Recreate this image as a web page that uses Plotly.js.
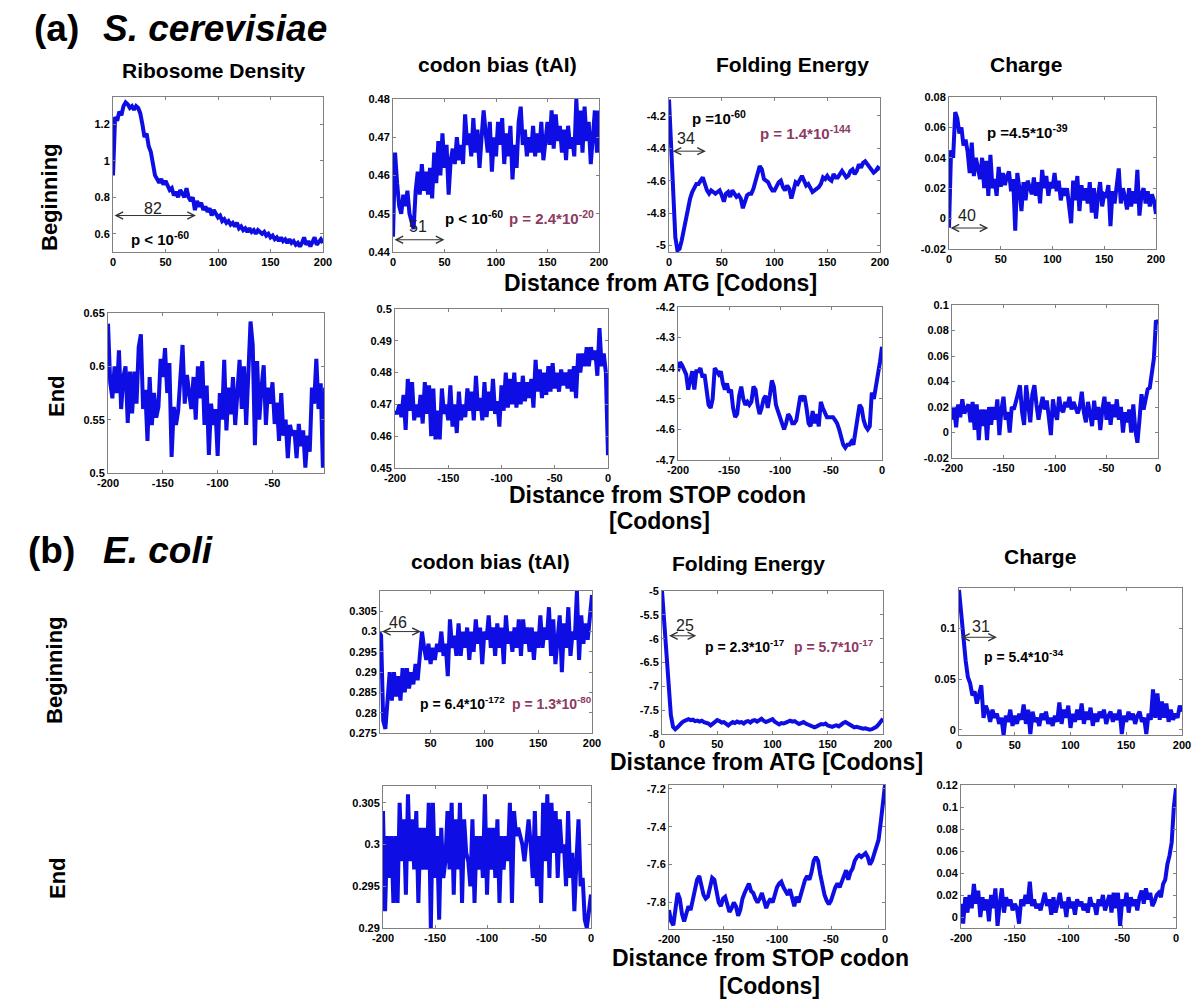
<!DOCTYPE html>
<html><head><meta charset="utf-8">
<script src="https://cdn.plot.ly/plotly-3.0.1.min.js"></script>
<style>html,body{margin:0;padding:0;background:#fff}#chart{width:1200px;height:1006px}</style>
</head><body><div id="chart"></div>
<script>
// ---------- codon positions ----------
const xBegin = [0,2,4,6,8,10,12,14,16,18,20,22,24,26,28,30,32,34,36,38,40,42,44,46,48,50,52,54,56,58,60,62,64,66,68,70,72,74,76,78,80,82,84,86,88,90,92,94,96,98,100,102,104,106,108,110,112,114,116,118,120,122,124,126,128,130,132,134,136,138,140,142,144,146,148,150,152,154,156,158,160,162,164,166,168,170,172,174,176,178,180,182,184,186,188,190,192,194,196,198,200];
const xBeginEc = [2,4,6,8,10,12,14,16,18,20,22,24,26,28,30,32,34,36,38,40,42,44,46,48,50,52,54,56,58,60,62,64,66,68,70,72,74,76,78,80,82,84,86,88,90,92,94,96,98,100,102,104,106,108,110,112,114,116,118,120,122,124,126,128,130,132,134,136,138,140,142,144,146,148,150,152,154,156,158,160,162,164,166,168,170,172,174,176,178,180,182,184,186,188,190,192,194,196,198,200];
const xEnd = [-200,-198,-196,-194,-192,-190,-188,-186,-184,-182,-180,-178,-176,-174,-172,-170,-168,-166,-164,-162,-160,-158,-156,-154,-152,-150,-148,-146,-144,-142,-140,-138,-136,-134,-132,-130,-128,-126,-124,-122,-120,-118,-116,-114,-112,-110,-108,-106,-104,-102,-100,-98,-96,-94,-92,-90,-88,-86,-84,-82,-80,-78,-76,-74,-72,-70,-68,-66,-64,-62,-60,-58,-56,-54,-52,-50,-48,-46,-44,-42,-40,-38,-36,-34,-32,-30,-28,-26,-24,-22,-20,-18,-16,-14,-12,-10,-8,-6,-4,-2,0];

// ---------- (a) S. cerevisiae, beginning ----------
const scRiboBegin = [0.92,1.24,1.22,1.27,1.25,1.30,1.32,1.31,1.29,1.30,
 1.28,1.30,1.29,1.26,1.20,1.13,1.15,1.08,1.05,0.97,
 0.92,0.90,0.88,0.90,0.87,0.89,0.86,0.84,0.85,0.81,
 0.83,0.80,0.84,0.82,0.80,0.85,0.80,0.78,0.80,0.73,
 0.78,0.75,0.77,0.73,0.75,0.72,0.74,0.70,0.73,0.71,
 0.69,0.70,0.67,0.68,0.66,0.67,0.65,0.66,0.64,0.66,
 0.63,0.64,0.62,0.63,0.61,0.63,0.61,0.62,0.60,0.62,
 0.61,0.60,0.61,0.59,0.60,0.58,0.59,0.57,0.58,0.56,
 0.58,0.56,0.57,0.55,0.57,0.55,0.56,0.54,0.55,0.53,
 0.55,0.58,0.54,0.56,0.53,0.55,0.58,0.54,0.56,0.57,
 0.55];
const scCodonBegin = [0.444,0.466,0.458,0.452,0.450,0.455,0.452,0.456,0.450,0.448,
 0.446,0.456,0.461,0.455,0.463,0.456,0.461,0.455,0.462,0.454,
 0.466,0.458,0.469,0.460,0.471,0.462,0.468,0.455,0.464,0.467,
 0.463,0.470,0.464,0.468,0.463,0.476,0.468,0.471,0.465,0.475,
 0.466,0.472,0.462,0.470,0.477,0.471,0.466,0.474,0.461,0.470,
 0.465,0.474,0.468,0.475,0.463,0.471,0.465,0.473,0.459,0.468,
 0.462,0.474,0.478,0.468,0.472,0.465,0.470,0.466,0.473,0.465,
 0.471,0.466,0.474,0.464,0.470,0.474,0.468,0.477,0.467,0.476,
 0.469,0.473,0.466,0.472,0.464,0.473,0.467,0.470,0.465,0.480,
 0.468,0.477,0.466,0.478,0.469,0.474,0.463,0.471,0.477,0.466,
 0.477];
const scFoldBegin = [-4.10,-4.40,-4.72,-4.95,-5.03,-5.02,-4.97,-4.90,-4.82,-4.77,
 -4.71,-4.67,-4.65,-4.62,-4.62,-4.60,-4.58,-4.62,-4.66,-4.68,
 -4.66,-4.67,-4.68,-4.67,-4.66,-4.69,-4.73,-4.68,-4.67,-4.70,
 -4.66,-4.68,-4.70,-4.69,-4.71,-4.77,-4.73,-4.69,-4.68,-4.68,
 -4.65,-4.60,-4.54,-4.51,-4.53,-4.59,-4.60,-4.61,-4.64,-4.66,
 -4.66,-4.63,-4.61,-4.60,-4.64,-4.66,-4.63,-4.65,-4.71,-4.66,
 -4.61,-4.62,-4.60,-4.57,-4.60,-4.63,-4.62,-4.64,-4.67,-4.66,
 -4.65,-4.64,-4.62,-4.58,-4.59,-4.57,-4.59,-4.60,-4.56,-4.58,
 -4.58,-4.56,-4.54,-4.56,-4.58,-4.57,-4.54,-4.53,-4.56,-4.54,
 -4.50,-4.52,-4.49,-4.48,-4.50,-4.51,-4.53,-4.55,-4.54,-4.52,
 -4.53];
const scChargeBegin = [-0.006,0.045,0.040,0.070,0.066,0.056,0.060,0.048,0.052,0.044,
 0.030,0.050,0.028,0.040,0.033,0.026,0.040,0.020,0.038,0.015,
 0.042,0.020,0.026,0.015,0.034,0.021,0.030,0.022,0.028,0.031,
 0.018,0.026,-0.008,0.030,0.020,0.005,0.024,0.012,0.025,0.020,
 0.016,0.027,0.015,0.024,0.010,0.032,0.020,0.028,0.015,0.024,
 0.020,0.030,0.018,0.025,0.012,0.020,0.015,0.020,0.010,-0.003,
 0.025,0.012,0.028,0.005,0.022,0.012,0.020,0.010,0.024,0.004,
 0.020,0.000,0.015,0.024,0.008,0.016,0.015,0.022,-0.005,0.018,
 0.010,0.020,0.033,0.010,0.020,0.014,0.006,0.020,0.008,0.018,
 0.010,0.032,0.002,0.016,0.020,0.010,0.018,0.008,0.016,0.012,
 0.003];

// ---------- (a) S. cerevisiae, end ----------
const scRiboEnd = [0.640,0.585,0.570,0.600,0.575,0.615,0.560,0.590,0.600,0.547,
 0.595,0.556,0.595,0.565,0.618,0.630,0.560,0.578,0.530,0.590,
 0.545,0.575,0.552,0.562,0.607,0.590,0.617,0.575,0.603,0.515,
 0.562,0.545,0.558,0.595,0.620,0.565,0.592,0.575,0.560,0.590,
 0.550,0.600,0.570,0.605,0.545,0.582,0.517,0.565,0.545,0.560,
 0.516,0.575,0.550,0.606,0.540,0.580,0.555,0.590,0.545,0.575,
 0.606,0.560,0.600,0.545,0.600,0.642,0.620,0.526,0.605,0.550,
 0.580,0.601,0.545,0.580,0.565,0.585,0.546,0.566,0.530,0.575,
 0.535,0.550,0.514,0.545,0.535,0.540,0.514,0.546,0.525,0.540,
 0.505,0.535,0.520,0.580,0.565,0.607,0.560,0.584,0.505,0.580,
 0.560];
const scCodonEnd = [0.468,0.467,0.470,0.466,0.473,0.462,0.478,0.468,0.477,0.465,
 0.470,0.466,0.473,0.464,0.477,0.467,0.476,0.460,0.475,0.459,
 0.468,0.459,0.475,0.467,0.470,0.465,0.476,0.463,0.470,0.461,
 0.474,0.465,0.470,0.466,0.475,0.468,0.474,0.465,0.479,0.468,
 0.472,0.465,0.477,0.466,0.474,0.468,0.478,0.467,0.471,0.463,
 0.476,0.468,0.480,0.469,0.478,0.470,0.480,0.469,0.477,0.470,
 0.479,0.471,0.477,0.472,0.478,0.469,0.484,0.474,0.481,0.472,
 0.480,0.473,0.482,0.474,0.483,0.475,0.480,0.474,0.481,0.476,
 0.480,0.475,0.481,0.474,0.482,0.472,0.486,0.480,0.486,0.482,
 0.488,0.482,0.488,0.484,0.487,0.479,0.494,0.482,0.486,0.480,
 0.454];
const scFoldEnd = [-4.41,-4.38,-4.39,-4.41,-4.42,-4.47,-4.44,-4.41,-4.47,-4.41,
 -4.41,-4.40,-4.43,-4.42,-4.47,-4.52,-4.53,-4.50,-4.40,-4.41,
 -4.42,-4.41,-4.45,-4.47,-4.45,-4.48,-4.47,-4.53,-4.56,-4.55,
 -4.49,-4.46,-4.50,-4.52,-4.51,-4.52,-4.51,-4.46,-4.47,-4.52,
 -4.55,-4.53,-4.50,-4.49,-4.53,-4.49,-4.44,-4.46,-4.52,-4.54,
 -4.56,-4.57,-4.60,-4.58,-4.55,-4.56,-4.58,-4.58,-4.57,-4.53,
 -4.49,-4.50,-4.49,-4.53,-4.58,-4.59,-4.54,-4.58,-4.55,-4.59,
 -4.51,-4.53,-4.55,-4.56,-4.56,-4.56,-4.56,-4.57,-4.58,-4.60,
 -4.63,-4.65,-4.66,-4.65,-4.65,-4.64,-4.65,-4.60,-4.55,-4.52,
 -4.53,-4.57,-4.59,-4.60,-4.59,-4.48,-4.50,-4.46,-4.43,-4.38,
 -4.33];
const scChargeEnd = [0.010,0.020,0.004,0.022,0.012,0.026,0.015,0.018,0.022,0.008,
 0.024,0.002,0.022,-0.006,0.018,0.005,0.018,-0.006,0.020,0.006,
 0.020,0.010,0.026,-0.002,0.018,0.028,0.010,0.016,0.000,0.020,
 0.018,0.024,0.030,0.037,0.016,0.006,0.037,0.020,0.008,0.030,
 0.037,0.022,0.010,0.020,0.028,0.018,0.025,0.012,-0.002,0.026,
 0.015,0.010,0.028,0.018,0.016,0.024,0.020,0.028,0.018,0.024,
 0.020,0.015,0.020,0.032,0.016,0.008,0.024,0.016,0.005,0.025,
 0.010,0.020,0.002,0.018,0.028,0.010,0.024,0.006,0.022,0.012,
 0.026,0.010,0.020,0.000,0.016,0.008,0.018,0.000,0.022,0.002,
 -0.008,0.010,0.030,0.018,0.025,0.034,0.035,0.050,0.058,0.088,
 0.085];

// ---------- (b) E. coli, beginning ----------
const ecCodonBegin = [0.300,0.299,0.278,0.276,0.283,0.290,0.283,0.290,0.284,0.289,
 0.283,0.291,0.285,0.291,0.286,0.290,0.287,0.292,0.288,0.293,
 0.300,0.296,0.293,0.297,0.292,0.296,0.293,0.297,0.295,0.300,
 0.294,0.297,0.289,0.303,0.296,0.299,0.294,0.302,0.294,0.300,
 0.296,0.301,0.293,0.300,0.295,0.303,0.297,0.301,0.292,0.300,
 0.298,0.304,0.296,0.301,0.294,0.302,0.296,0.301,0.292,0.304,
 0.297,0.300,0.295,0.301,0.296,0.303,0.294,0.303,0.297,0.301,
 0.295,0.301,0.293,0.300,0.296,0.304,0.296,0.301,0.298,0.306,
 0.294,0.303,0.292,0.298,0.304,0.290,0.302,0.296,0.306,0.294,
 0.300,0.298,0.310,0.293,0.304,0.297,0.302,0.298,0.305,0.309];
const ecFoldBegin = [-5.00,-5.60,-6.30,-7.00,-7.60,-7.85,-7.90,-7.86,-7.80,-7.76,
 -7.73,-7.72,-7.69,-7.71,-7.70,-7.73,-7.72,-7.74,-7.72,-7.75,
 -7.76,-7.78,-7.82,-7.79,-7.74,-7.71,-7.73,-7.76,-7.75,-7.79,
 -7.82,-7.78,-7.75,-7.77,-7.74,-7.76,-7.75,-7.78,-7.74,-7.73,
 -7.76,-7.72,-7.71,-7.74,-7.70,-7.68,-7.72,-7.75,-7.73,-7.70,
 -7.69,-7.74,-7.78,-7.80,-7.77,-7.78,-7.76,-7.74,-7.72,-7.74,
 -7.73,-7.76,-7.79,-7.77,-7.75,-7.78,-7.80,-7.82,-7.84,-7.86,
 -7.84,-7.82,-7.79,-7.80,-7.78,-7.82,-7.84,-7.85,-7.83,-7.82,
 -7.84,-7.80,-7.77,-7.75,-7.78,-7.82,-7.85,-7.86,-7.85,-7.87,
 -7.88,-7.89,-7.88,-7.90,-7.91,-7.90,-7.88,-7.85,-7.80,-7.74,
 -7.68];
const ecChargeBegin = [0.138,0.112,0.088,0.068,0.052,0.046,0.034,0.038,0.026,0.034,
 0.044,0.012,0.024,0.018,0.008,0.020,0.012,0.016,0.006,0.012,
 -0.005,0.014,0.008,0.020,0.004,0.014,0.006,0.016,0.010,0.025,
 0.006,0.020,-0.004,0.018,0.008,0.012,0.004,0.016,0.010,0.018,
 0.006,0.012,0.004,0.014,0.008,0.027,0.006,0.020,0.012,0.024,
 0.002,0.016,0.008,0.020,0.010,0.026,0.006,0.018,0.010,0.022,
 0.004,0.016,0.008,0.018,0.012,0.020,0.006,0.014,0.018,0.008,
 0.016,0.010,0.020,-0.004,0.014,0.008,0.018,0.010,0.016,0.006,
 0.014,0.018,0.008,0.012,-0.004,0.016,0.010,0.040,0.012,0.036,
 0.010,0.028,0.012,0.026,0.008,0.020,0.010,0.016,0.012,0.024,
 0.018];

// ---------- (b) E. coli, end ----------
const ecCodonEnd = [0.304,0.292,0.301,0.296,0.301,0.293,0.301,0.293,0.305,0.298,
 0.303,0.294,0.306,0.298,0.303,0.297,0.304,0.293,0.302,0.297,
 0.302,0.297,0.305,0.290,0.305,0.296,0.301,0.291,0.302,0.296,
 0.298,0.304,0.297,0.305,0.294,0.303,0.297,0.305,0.293,0.303,
 0.299,0.298,0.295,0.303,0.293,0.301,0.297,0.301,0.296,0.306,
 0.294,0.302,0.297,0.302,0.296,0.303,0.293,0.301,0.297,0.301,
 0.298,0.305,0.293,0.304,0.301,0.302,0.301,0.300,0.298,0.301,
 0.303,0.300,0.296,0.304,0.295,0.301,0.293,0.305,0.298,0.306,
 0.296,0.305,0.299,0.304,0.296,0.303,0.299,0.300,0.295,0.304,
 0.296,0.299,0.292,0.298,0.303,0.295,0.296,0.291,0.290,0.292,
 0.294];
const ecFoldEnd = [-7.84,-7.90,-7.92,-7.82,-7.75,-7.78,-7.86,-7.90,-7.85,-7.82,
 -7.84,-7.78,-7.72,-7.68,-7.66,-7.72,-7.76,-7.78,-7.77,-7.72,
 -7.67,-7.68,-7.74,-7.80,-7.82,-7.78,-7.77,-7.82,-7.85,-7.83,
 -7.80,-7.82,-7.87,-7.84,-7.78,-7.75,-7.72,-7.70,-7.74,-7.75,
 -7.78,-7.80,-7.78,-7.75,-7.79,-7.83,-7.80,-7.78,-7.80,-7.76,
 -7.72,-7.70,-7.69,-7.72,-7.74,-7.76,-7.73,-7.78,-7.82,-7.77,
 -7.80,-7.76,-7.72,-7.68,-7.66,-7.68,-7.64,-7.58,-7.56,-7.58,
 -7.65,-7.72,-7.76,-7.79,-7.81,-7.79,-7.75,-7.72,-7.70,-7.72,
 -7.69,-7.66,-7.63,-7.68,-7.64,-7.62,-7.58,-7.56,-7.55,-7.56,
 -7.55,-7.54,-7.56,-7.60,-7.58,-7.54,-7.51,-7.47,-7.38,-7.28,
 -7.18];
const ecChargeEnd = [0.012,-0.006,0.018,0.004,0.020,0.008,0.030,0.012,0.024,0.000,
 0.018,0.006,0.016,-0.004,0.020,0.008,0.026,-0.008,0.012,0.026,
 0.004,0.018,0.010,0.016,0.006,0.012,0.008,-0.006,0.016,0.010,
 0.020,0.012,0.032,0.010,0.016,0.008,0.012,0.006,0.014,0.022,
 0.010,0.016,0.002,0.018,0.004,0.014,0.022,0.008,0.014,0.000,
 0.018,0.008,0.014,0.002,0.016,0.010,0.014,0.006,0.012,0.004,
 0.018,0.010,0.012,0.002,0.016,0.010,0.020,0.006,0.014,0.020,
 0.004,0.022,0.008,0.022,-0.008,0.016,0.010,0.022,0.004,0.018,
 0.010,0.016,0.006,0.018,0.024,0.012,0.026,0.016,0.022,0.010,
 0.014,0.020,0.022,0.018,0.030,0.034,0.048,0.056,0.068,0.100,
 0.117];

// ---------- tick values ----------
const xTicksBegin = [0,50,100,150,200];
const xTicksEnd = [-200,-150,-100,-50,0];
const yTicksScRiboBegin = [0.6,0.8,1,1.2];
const yTicksScCodonBegin = [0.44,0.45,0.46,0.47,0.48];
const yTicksScFoldBegin = [-5,-4.8,-4.6,-4.4,-4.2];
const yTicksScChargeBegin = [-0.02,0,0.02,0.04,0.06,0.08];
const yTicksScRiboEnd = [0.5,0.55,0.6,0.65];
const yTicksScCodonEnd = [0.45,0.46,0.47,0.48,0.49,0.5];
const yTicksScFoldEnd = [-4.7,-4.6,-4.5,-4.4,-4.3,-4.2];
const yTicksScChargeEnd = [-0.02,0,0.02,0.04,0.06,0.08,0.1];
const yTicksEcCodonBegin = [0.275,0.28,0.285,0.29,0.295,0.3,0.305];
const yTicksEcFoldBegin = [-8,-7.5,-7,-6.5,-6,-5.5,-5];
const yTicksEcChargeBegin = [0,0.05,0.1];
const yTicksEcCodonEnd = [0.29,0.295,0.3,0.305];
const yTicksEcFoldEnd = [-7.8,-7.6,-7.4,-7.2];
const yTicksEcChargeEnd = [0,0.02,0.04,0.06,0.08,0.1,0.12];

// ---------- layout of panels (pixel boxes: left, right, top, bottom) ----------
const W = 1200, H = 1006;
const panels = [
  {x:xBegin, y:scRiboBegin,  box:[113,323,97,252],  xr:[0,200],    yr:[0.5,1.35],    xt:xTicksBegin, yt:yTicksScRiboBegin},
  {x:xBegin, y:scCodonBegin, box:[393,599,99,252],  xr:[0,200],    yr:[0.44,0.48],   xt:xTicksBegin, yt:yTicksScCodonBegin},
  {x:xBegin, y:scFoldBegin,  box:[669,880,98,252],  xr:[0,200],    yr:[-5.04,-4.09], xt:xTicksBegin, yt:yTicksScFoldBegin},
  {x:xBegin, y:scChargeBegin,box:[949,1156,97,249], xr:[0,200],    yr:[-0.02,0.08],  xt:xTicksBegin, yt:yTicksScChargeBegin},
  {x:xEnd,   y:scRiboEnd,    box:[108,324,313,473], xr:[-200,-3],  yr:[0.5,0.65],    xt:xTicksEnd,   yt:yTicksScRiboEnd},
  {x:xEnd,   y:scCodonEnd,   box:[395,608,309,468], xr:[-200,0],   yr:[0.45,0.5],    xt:xTicksEnd,   yt:yTicksScCodonEnd},
  {x:xEnd,   y:scFoldEnd,    box:[678,882,307,460], xr:[-200,0],   yr:[-4.7,-4.2],   xt:xTicksEnd,   yt:yTicksScFoldEnd},
  {x:xEnd,   y:scChargeEnd,  box:[952,1158,305,458],xr:[-200,0],   yr:[-0.02,0.1],   xt:xTicksEnd,   yt:yTicksScChargeEnd},
  {x:xBeginEc, y:ecCodonBegin, box:[380,592,591,733], xr:[3,200], yr:[0.275,0.31],  xt:xTicksBegin, yt:yTicksEcCodonBegin},
  {x:xBegin, y:ecFoldBegin,  box:[662,883,591,734], xr:[0,200],    yr:[-8,-5],       xt:xTicksBegin, yt:yTicksEcFoldBegin},
  {x:xBegin, y:ecChargeBegin,box:[959,1182,588,735],xr:[0,200],    yr:[-0.005,0.14], xt:xTicksBegin, yt:yTicksEcChargeBegin},
  {x:xEnd,   y:ecCodonEnd,   box:[383,591,786,928], xr:[-200,0],   yr:[0.29,0.307],  xt:xTicksEnd,   yt:yTicksEcCodonEnd},
  {x:xEnd,   y:ecFoldEnd,    box:[669,885,785,929], xr:[-200,0],   yr:[-7.94,-7.18], xt:xTicksEnd,   yt:yTicksEcFoldEnd},
  {x:xEnd,   y:ecChargeEnd,  box:[961,1176,785,928],xr:[-200,0],   yr:[-0.01,0.12],  xt:xTicksEnd,   yt:yTicksEcChargeEnd}
];

const FONT = 'Liberation Sans, Arial, Helvetica, sans-serif';
const BLUE = 'rgb(14,14,228)';
const PURPLE = '#8b3a62';
const AXC = '#808080';

const data = [];
const layout = {
  width: W, height: H, margin:{l:0,r:0,t:0,b:0},
  paper_bgcolor:'#fff', plot_bgcolor:'#fff', showlegend:false,
  font:{family:FONT, color:'#000'},
  annotations: []
};

function axis(range, ticks, dom, anchor) {
  return {
    domain: dom, anchor: anchor, range: range,
    tickmode:'array', tickvals: ticks, ticktext: ticks.map(String),
    showline:true, mirror:'ticks', linecolor:AXC, linewidth:1,
    ticks:'inside', ticklen:3, tickwidth:1, tickcolor:AXC,
    showgrid:false, zeroline:false, fixedrange:true,
    tickfont:{family:FONT, size:11, color:'#000', weight:'bold'}
  };
}

panels.forEach((p, i) => {
  const n = i + 1;
  const xa = 'x' + (n === 1 ? '' : n), ya = 'y' + (n === 1 ? '' : n);
  const [l, r, t, b] = p.box;
  layout['xaxis' + (n === 1 ? '' : n)] = axis(p.xr, p.xt, [l / W, r / W], ya);
  layout['yaxis' + (n === 1 ? '' : n)] = axis(p.yr, p.yt, [1 - b / H, 1 - t / H], xa);
  data.push({x:p.x, y:p.y, xaxis:xa, yaxis:ya, type:'scatter', mode:'lines',
             line:{color:BLUE, width:4}, hoverinfo:'skip'});
});

// ---------- paper-positioned text ----------
function ptext(text, px, py, size, opts) {
  layout.annotations.push(Object.assign({
    xref:'paper', yref:'paper', x:px / W, y:1 - py / H, text:text, showarrow:false,
    xanchor:'center', yanchor:'middle',
    font:{family:FONT, size:size, color:'#000', weight:'bold'}
  }, opts || {}));
}
ptext('(a)', 32, 29, 37, {xanchor:'left'});
ptext('<i>S. cerevisiae</i>', 101, 29, 37, {xanchor:'left'});
ptext('(b)', 26, 550, 37, {xanchor:'left'});
ptext('<i>E. coli</i>', 101, 550, 37, {xanchor:'left'});

ptext('Ribosome Density', 214, 71, 21);
ptext('codon bias (tAI)', 497, 64, 21);
ptext('Folding Energy', 792, 64, 21);
ptext('Charge', 1026, 64, 21);
ptext('codon bias (tAI)', 490, 561, 21);
ptext('Folding Energy', 748, 563, 21);
ptext('Charge', 1040, 556, 21);

ptext('Beginning', 49, 197, 22, {textangle:-90});
ptext('End', 57, 396, 22, {textangle:-90});
ptext('Beginning', 54, 670, 22, {textangle:-90});
ptext('End', 57, 878, 22, {textangle:-90});

ptext('Distance from ATG [Codons]', 660, 283, 23);
ptext('Distance from STOP codon', 657, 495, 23);
ptext('[Codons]', 659, 521, 23);
ptext('Distance from ATG [Codons]', 766, 762, 23);
ptext('Distance from STOP codon', 760, 958, 23);
ptext('[Codons]', 769, 986, 23);

// ---------- in-plot annotations (data coordinates) ----------
function ref(n) { return n === 1 ? '' : String(n); }
function dtext(n, text, x, y, opts, color, size, weight) {
  layout.annotations.push(Object.assign({
    xref:'x' + ref(n), yref:'y' + ref(n), x:x, y:y, text:text, showarrow:false,
    xanchor:'left', yanchor:'middle',
    font:{family:FONT, size:size || 15, color:color || '#000', weight:weight || 'bold'}
  }, opts || {}));
}
function darrow(n, x0, x1, y) {
  layout.annotations.push({
    xref:'x' + ref(n), yref:'y' + ref(n), axref:'x' + ref(n), ayref:'y' + ref(n),
    x:x1, y:y, ax:x0, ay:y, text:'', showarrow:true,
    arrowhead:5, startarrowhead:5, arrowside:'end+start',
    arrowsize:1.4, startarrowsize:1.4, arrowwidth:1, arrowcolor:'#333',
    standoff:0, startstandoff:0
  });
}
const numOpts = {xanchor:'center'};
// panel 1
darrow(1, 0, 79, 0.70);
dtext(1, '82', 38, 0.74, numOpts, '#222', 16, 'normal');
dtext(1, 'p &lt; 10<sup>-60</sup>', 15, 0.575);
// panel 2
darrow(2, 0, 50, 0.4432);
dtext(2, '51', 24, 0.4467, numOpts, '#222', 16, 'normal');
dtext(2, 'p &lt; 10<sup>-60</sup>', 49, 0.4490);
dtext(2, 'p = 2.4*10<sup>-20</sup>', 111, 0.4490, {}, PURPLE);
// panel 3
darrow(3, 2, 35, -4.418);
dtext(3, '34', 16, -4.34, numOpts, '#222', 16, 'normal');
dtext(3, 'p =10<sup>-60</sup>', 20, -4.21);
dtext(3, 'p = 1.4*10<sup>-144</sup>', 84, -4.30, {}, PURPLE);
// panel 4
darrow(4, 0, 38, -0.0062);
dtext(4, '40', 17, 0.002, numOpts, '#222', 16, 'normal');
dtext(4, 'p =4.5*10<sup>-39</sup>', 35, 0.057);
// panel 9
darrow(9, 3.5, 41, 0.300);
dtext(9, '46', 20, 0.3022, numOpts, '#222', 16, 'normal');
dtext(9, 'p = 6.4*10<sup>-172</sup>', 38, 0.2825, {}, '#000', 14);
dtext(9, 'p = 1.3*10<sup>-80</sup>', 124, 0.2825, {}, PURPLE, 14);
// panel 10
darrow(10, 5, 31, -5.94);
dtext(10, '25', 21, -5.73, numOpts, '#222', 16, 'normal');
dtext(10, 'p = 2.3*10<sup>-17</sup>', 37, -6.15, {}, '#000', 14);
dtext(10, 'p = 5.7*10<sup>-17</sup>', 118, -6.15, {}, PURPLE, 14);
// panel 11
darrow(11, 0.5, 34, 0.0914);
dtext(11, '31', 20, 0.102, numOpts, '#222', 16, 'normal');
dtext(11, 'p = 5.4*10<sup>-34</sup>', 21, 0.0725, {}, '#000', 14);

Plotly.newPlot('chart', data, layout, {staticPlot:true, displayModeBar:false});
</script>
</body></html>
